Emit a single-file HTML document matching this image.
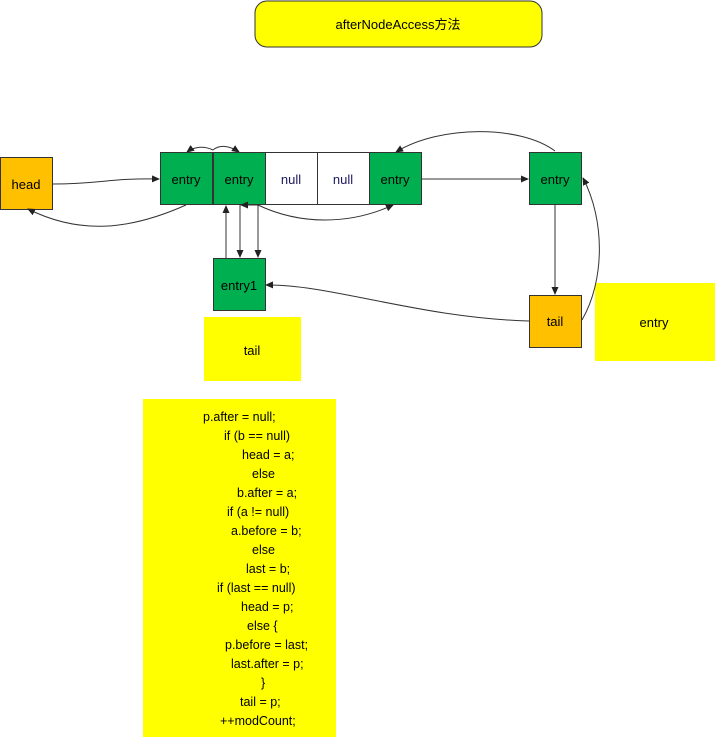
<!DOCTYPE html>
<html><head><meta charset="utf-8"><style>body{margin:0;background:#fff}</style></head><body>
<svg width="716" height="739" viewBox="0 0 716 739" xmlns="http://www.w3.org/2000/svg" font-family="Liberation Sans, Noto Sans CJK SC, sans-serif" font-size="13">
<defs><marker id="a" markerWidth="8" markerHeight="8" refX="7" refY="4" orient="auto" markerUnits="userSpaceOnUse"><path d="M0,0.5 L8,4 L0,7.5 z" fill="#222"/></marker></defs>
<rect x="255" y="1" width="287" height="46" rx="12" fill="#ffff00" stroke="#333"/>
<text x="398" y="29" text-anchor="middle">afterNodeAccess方法</text>
<rect x="0.5" y="157.5" width="52" height="52" fill="#ffc000" stroke="#333"/>
<text x="26" y="189" text-anchor="middle">head</text>
<g stroke="#333" fill="#00b050"><rect x="160.5" y="152.5" width="52" height="52"/><rect x="213.5" y="152.5" width="52" height="52"/><rect x="265.5" y="152.5" width="52" height="52" fill="#fff"/><rect x="317.5" y="152.5" width="52" height="52" fill="#fff"/><rect x="369.5" y="152.5" width="52" height="52"/><rect x="529.5" y="152.5" width="52" height="52"/><rect x="213.5" y="258.5" width="52" height="52"/><rect x="529.5" y="295.5" width="52" height="52" fill="#ffc000"/></g>
<g text-anchor="middle"><text x="186" y="184">entry</text><text x="239" y="184">entry</text><text x="291" y="184" fill="#1a1a60">null</text><text x="343" y="184" fill="#1a1a60">null</text><text x="395" y="184">entry</text><text x="555" y="184">entry</text><text x="239" y="290">entry1</text><text x="555" y="326">tail</text></g>
<rect x="204" y="317" width="97" height="64" fill="#ffff00"/><text x="252" y="355" text-anchor="middle">tail</text>
<rect x="595" y="283" width="120" height="78" fill="#ffff00"/><text x="654" y="327" text-anchor="middle">entry</text>
<g fill="none" stroke="#333" stroke-width="1" marker-end="url(#a)">
<path d="M53,184 C100,184 110,178 159,179"/>
<path d="M186,205 C130,230 80,235 28,209"/>
<path d="M421,179 L528,179"/>
<path d="M555,205 L555,294"/>
<path d="M213,150 C220,144 230,146 239,152"/>
<path d="M213,150 C205,146 195,146 187,152"/>
<path d="M258,205 C300,225 350,225 393,205"/>
<path d="M258,205 L241,205"/>
<path d="M226,258 L226,206"/>
<path d="M240,205 L240,257"/>
<path d="M258,205 L258,257"/>
<path d="M529,321 C420,318 330,284 266,285"/>
<path d="M582,320 C605,280 605,220 583,178"/>
<path d="M555,151 C520,125 440,125 396,152"/>
</g>
<rect x="143" y="399" width="193" height="338" fill="#ffff00"/>
<g font-size="12.5">
<text x="203" y="421">p.after = null;</text><text x="224" y="440">if (b == null)</text><text x="242" y="459">head = a;</text><text x="252" y="478">else</text><text x="237" y="497">b.after = a;</text><text x="227" y="516">if (a != null)</text><text x="231" y="535">a.before = b;</text><text x="252" y="554">else</text><text x="246" y="573">last = b;</text><text x="217" y="592">if (last == null)</text><text x="241" y="611">head = p;</text><text x="247" y="630">else {</text><text x="225" y="649">p.before = last;</text><text x="231" y="668">last.after = p;</text><text x="261" y="687">}</text><text x="240" y="706">tail = p;</text><text x="220" y="725">++modCount;</text>
</g>
</svg>
</body></html>
